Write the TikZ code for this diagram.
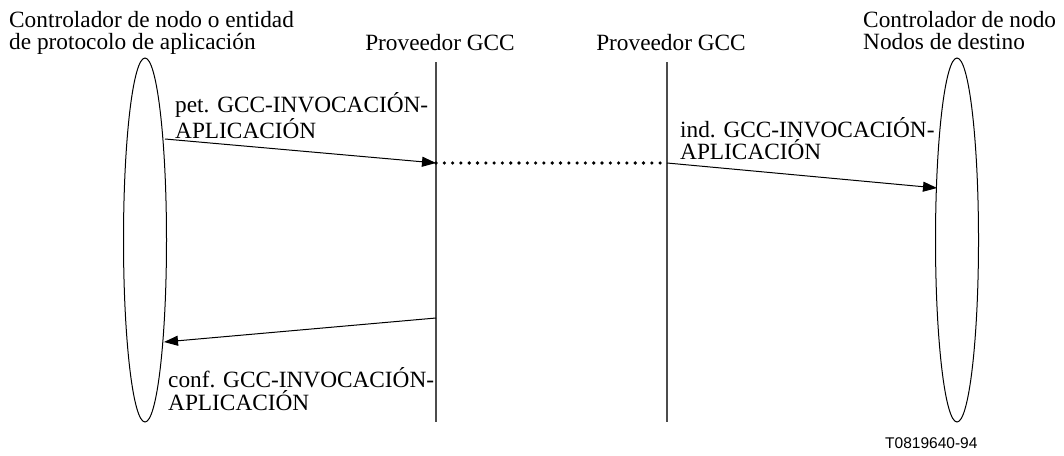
\documentclass[tikz,border=0pt]{standalone}
\usepackage{fontspec}
\setmainfont{Liberation Serif}
\newfontfamily\codefont{Liberation Sans}
\usetikzlibrary{arrows.meta}
\tikzset{
  lbl/.style={inner sep=0pt, anchor=base west, align=left, font=\fontsize{23.3}{22.5}\selectfont},
  ttl/.style={inner sep=0pt, anchor=base, font=\fontsize{23.3}{22}\selectfont},
  party/.style={draw=black, line width=1pt},
  lifeline/.style={draw=black!70, line width=1.3pt},
  msg/.style={draw=black, line width=1pt, -{Triangle[length=14pt,width=10pt]}},
  relay/.style={draw=black, line width=3.6pt, line cap=round, dash pattern=on 0pt off 8.3pt}
}
\begin{document}
\begin{tikzpicture}[x=1pt,y=-1pt]
\useasboundingbox (0,0) rectangle (1064,455);
% parties
\draw[party] (145,240) ellipse [x radius=21.5, y radius=182];
\draw[party] (957,240) ellipse [x radius=21.5, y radius=182];
% lifelines
\coordinate (p1t) at (436,62);
\coordinate (p1b) at (436,422);
\coordinate (p2t) at (667,62);
\coordinate (p2b) at (667,422);
\draw[lifeline] (p1t) -- (p1b);
\draw[lifeline] (p2t) -- (p2b);
% titles (anchor = baseline of the last line)
\node[lbl] (tl) at (9,49.5) {Controlador de nodo o entidad\\de protocolo de aplicación};
\node[ttl] (tp1) at (440,50) {Proveedor GCC};
\node[ttl] (tp2) at (671,50) {Proveedor GCC};
\node[lbl] (tr) at (863,49.5) {Controlador de nodo\\Nodos de destino};
% message points
\coordinate (a1) at (165,139);
\coordinate (a2) at (436,163);
\coordinate (b1) at (667,163);
\coordinate (b2) at (937,188);
\coordinate (c1) at (436,318);
\coordinate (c2) at (164,342);
\draw[msg] (a1) -- (a2);
\draw[relay] (a2) -- (b1);
\draw[msg] (b1) -- (b2);
\draw[msg] (c1) -- (c2);
% labels
\node[lbl] (lpet) at (175,138) {pet. GCC-INVOCACIÓN-\\APLICACIÓN};
\node[lbl] (lind) at (680,159.5) {ind. GCC-INVOCACIÓN-\\APLICACIÓN};
\node[lbl] (lconf) at (168,410) {conf. GCC-INVOCACIÓN-\\APLICACIÓN};
\node[inner sep=0pt, anchor=base west, font=\codefont\fontsize{15.5}{18}\selectfont] (code) at (885,448) {T0819640-94};
\end{tikzpicture}
\end{document}
